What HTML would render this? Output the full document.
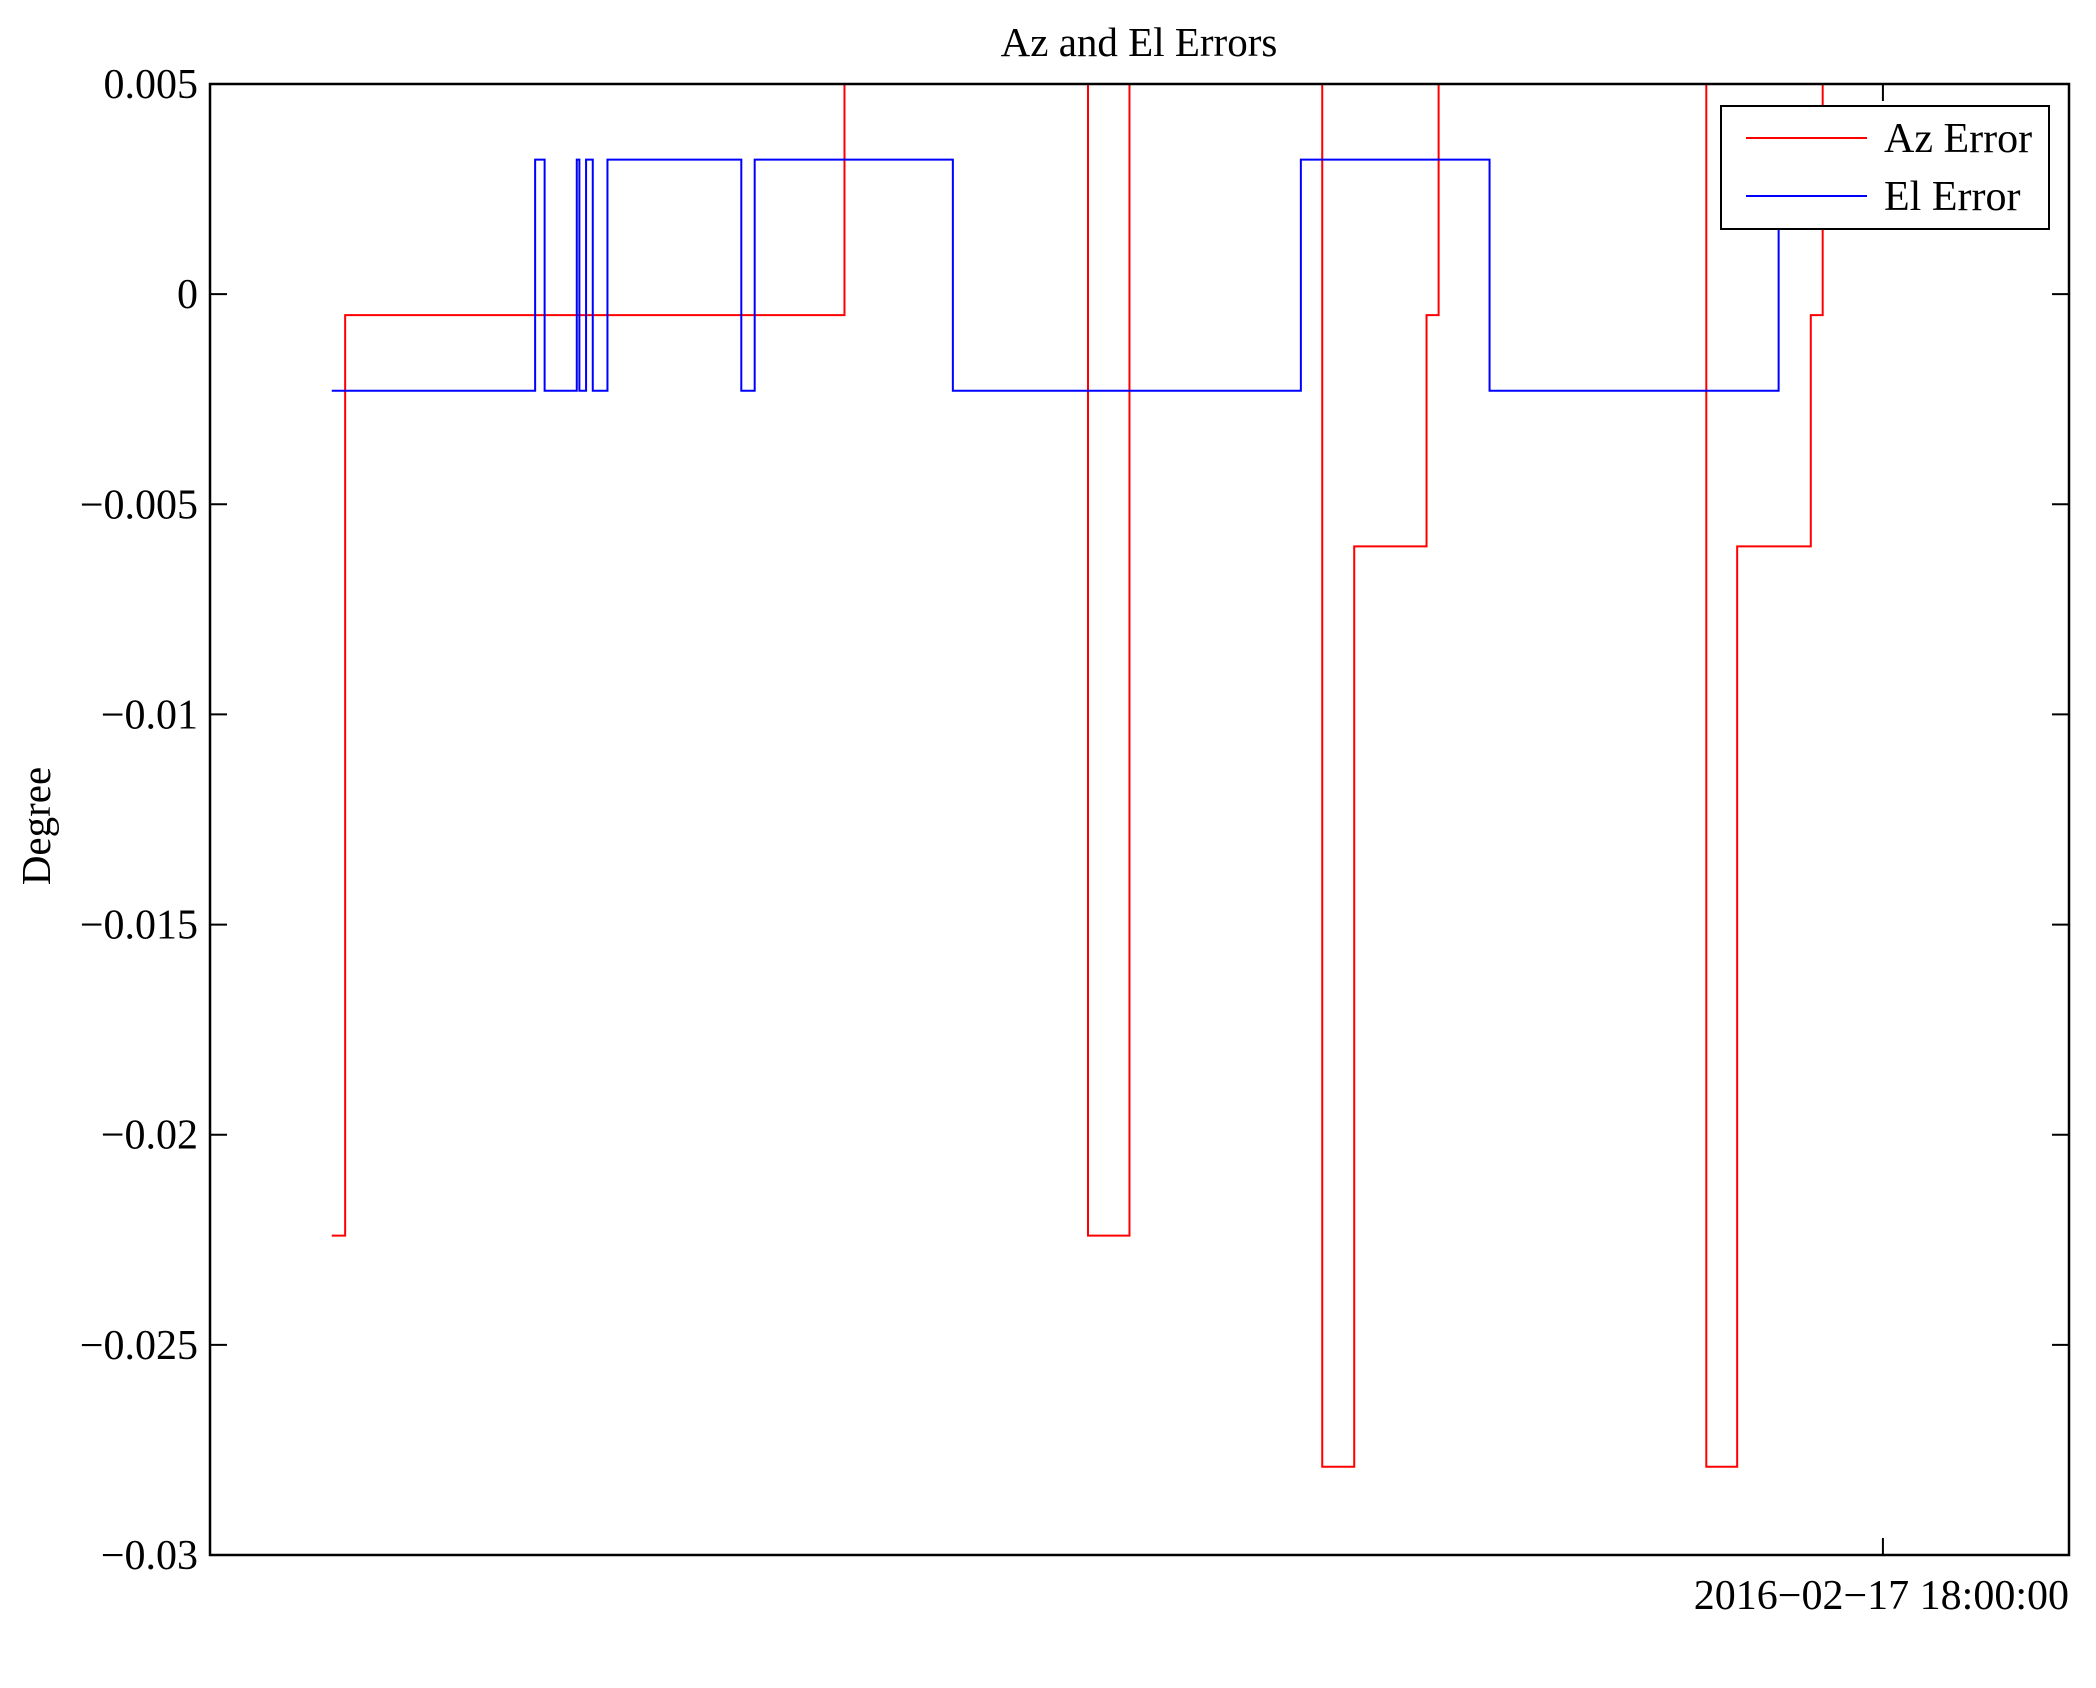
<!DOCTYPE html>
<html><head><meta charset="utf-8"><style>
body{margin:0;background:#fff}
svg text{font-family:"Liberation Serif",serif;fill:#000}
</style></head><body>
<svg id="chart" width="2096" height="1683" xmlns="http://www.w3.org/2000/svg">
<text x="1139" y="56" font-size="41" text-anchor="middle">Az and El Errors</text>
<text x="0" y="0" font-size="41" text-anchor="middle" transform="translate(50,826) rotate(-90)">Degree</text>
<g id="plot"></g>
<g id="axes"></g>
<g>
<rect x="1721" y="106" width="328" height="123" fill="#fff" stroke="#000" stroke-width="2"/>
<line x1="1746" y1="138" x2="1867" y2="138" stroke="#f00" stroke-width="2"/>
<text x="1884" y="152" font-size="42">Az Error</text>
<line x1="1746" y1="196" x2="1867" y2="196" stroke="#00f" stroke-width="2"/>
<text x="1884" y="210" font-size="42">El Error</text>
</g>
</svg>
<script>
const azTimes=[65.5,72.7,341.3,472.3,494.6,598.3,615.5,654.4,660.9,804.9,821.5,861.1,867.5,880.5];
const azValues=[-0.0224,-0.0005,0.005,-0.0224,0.005,-0.0279,-0.006,-0.0005,0.005,-0.0279,-0.006,-0.0005,0.005,0.005];
const elTimes=[65.5,174.9,180.0,197.3,198.7,202.3,205.9,213.8,285.8,288.7,293.0,399.6,586.8,688.3,843.8,843.8];
const elValues=[-0.0023,0.0032,-0.0023,0.0032,-0.0023,0.0032,-0.0023,0.0032,-0.0023,-0.0023,0.0032,-0.0023,0.0032,-0.0023,0.0032,0.0032];
const yTicks=[0.005,0,-0.005,-0.01,-0.015,-0.02,-0.025,-0.03];
const yTickLabels=["0.005","0","\u22120.005","\u22120.01","\u22120.015","\u22120.02","\u22120.025","\u22120.03"];
const xTicks=[899.9];
const xTickLabels=["2016\u221202\u221217 18:00:00"];
const L=210,R=2069,T=84,B=1555;
const xs=t=>L+t/1000*(R-L);
const ys=v=>T+(0.005-v)/0.035*(B-T);
const NS="http://www.w3.org/2000/svg";
const plot=document.getElementById('plot'),axes=document.getElementById('axes');
function stair(times,vals,color,name){
  let d="";
  for(let i=0;i<times.length;i++){
    const x=xs(times[i]),y=ys(vals[i]);
    if(i===0)d+="M"+x+","+y;
    else{d+="H"+x+"V"+y;}
  }
  const p=document.createElementNS(NS,'path');
  p.setAttribute('d',d);p.setAttribute('fill','none');p.setAttribute('stroke',color);p.setAttribute('stroke-width','2');
  
  
  plot.appendChild(p);
}
function line(x1,y1,x2,y2,w,name){
  const l=document.createElementNS(NS,'line');
  l.setAttribute('x1',x1);l.setAttribute('y1',y1);l.setAttribute('x2',x2);l.setAttribute('y2',y2);
  l.setAttribute('stroke','#000');l.setAttribute('stroke-width',w);
  
  
  axes.appendChild(l);
}
function text(x,y,s,anchor,name){
  const t=document.createElementNS(NS,'text');
  t.setAttribute('x',x);t.setAttribute('y',y);t.setAttribute('font-size','42');t.setAttribute('text-anchor',anchor);
  t.textContent=s;
  
  
  axes.appendChild(t);
}
stair(azTimes,azValues,'#f00','az-error-line');
stair(elTimes,elValues,'#00f','el-error-line');
const frame=document.createElementNS(NS,'rect');
frame.setAttribute('x',L);frame.setAttribute('y',T);frame.setAttribute('width',R-L);frame.setAttribute('height',B-T);
frame.setAttribute('fill','none');frame.setAttribute('stroke','#000');frame.setAttribute('stroke-width','2.5');


axes.appendChild(frame);
yTicks.forEach((v,i)=>{
  const y=ys(v);
  line(L,y,L+17,y,2,'y-tick');
  line(R-17,y,R,y,2,'y-tick-right');
  text(L-12,y+14,yTickLabels[i],'end','y-tick-label');
});
xTicks.forEach((t,i)=>{
  const x=xs(t);
  line(x,B,x,B-17,2,'x-tick');
  line(x,T,x,T+17,2,'x-tick-top');
  text(R,B+54,xTickLabels[i],'end','x-tick-label');
});
</script>
</body></html>
